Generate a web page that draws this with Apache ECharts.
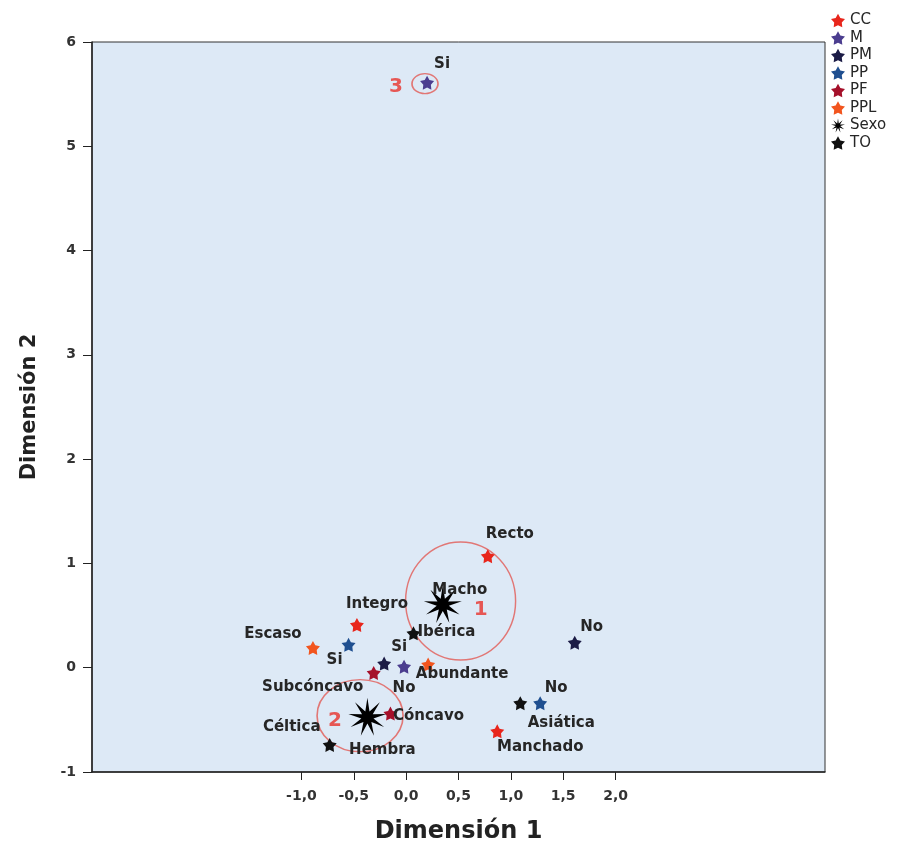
<!DOCTYPE html>
<html>
<head>
<meta charset="utf-8">
<script src="https://cdn.jsdelivr.net/npm/echarts@6/dist/echarts.min.js"></script>
<style>
html, body { margin: 0; padding: 0; background: #fff; }
#chart { width: 906px; height: 849px; }
</style>
</head>
<body>
<div id="chart"></div>
<script>
// categorias (leyenda) y puntos de cada una: [dim1, dim2, etiqueta]
var categories = ['CC', 'M', 'PM', 'PP', 'PF', 'PPL', 'Sexo', 'TO'];
var colors = ['#e8261c', '#4b3d8f', '#1c1c46', '#1f4f90', '#a5102a', '#f2551e', '#000000', '#111111'];

var ptsCC = [[0.78, 1.07, 'Recto'], [-0.47, 0.41, 'Integro'], [0.87, -0.61, 'Manchado']];
var ptsM = [[0.20, 5.61, 'Si'], [-0.02, 0.01, 'No']];
var ptsPM = [[-0.21, 0.04, 'Si'], [1.61, 0.24, 'No']];
var ptsPP = [[-0.55, 0.22, 'Si'], [1.28, -0.34, 'No']];
var ptsPF = [[-0.31, -0.05, 'Subcóncavo'], [-0.15, -0.44, 'Cóncavo']];
var ptsPPL = [[-0.89, 0.19, 'Escaso'], [0.21, 0.03, 'Abundante']];
var ptsSexo = [[0.35, 0.61, 'Macho'], [-0.37, -0.47, 'Hembra']];
var ptsTO = [[0.07, 0.33, 'Ibérica'], [-0.73, -0.74, 'Céltica'], [1.09, -0.34, 'Asiática']];

// marcas rojas dibujadas a mano (circulo + numero)
var marks = [[0.52, 0.64, '1'], [-0.44, -0.46, '2'], [0.18, 5.60, '3']];

var xTicks = [-1, -0.5, 0, 0.5, 1, 1.5, 2];

var allPts = [ptsCC, ptsM, ptsPM, ptsPP, ptsPF, ptsPPL, ptsSexo, ptsTO];

// donde va cada etiqueta respecto a su punto
var labelOffset = {
    'CC|Recto': [22, -22], 'CC|Integro': [20, -21], 'CC|Manchado': [43, 16],
    'M|Si': [15, -19], 'M|No': [0, 21],
    'PM|Si': [15, -16], 'PM|No': [17, -16],
    'PP|Si': [-14, 15], 'PP|No': [16, -15],
    'PF|Subcóncavo': [-61, 14], 'PF|Cóncavo': [38, 3],
    'PPL|Escaso': [-40, -14], 'PPL|Abundante': [34, 10],
    'Sexo|Macho': [17, -14], 'Sexo|Hembra': [15, 33],
    'TO|Ibérica': [33, -1], 'TO|Céltica': [-38, -18], 'TO|Asiática': [41, 20]
};
var markSize = { '1': [110, 118], '2': [86, 72], '3': [26, 20] };
var markOffset = { '1': [20, 9], '2': [-25, 5], '3': [-29, 3] };

function starPath(n, R, r) {
    var d = '';
    for (var i = 0; i < 2 * n; i++) {
        var a = -Math.PI / 2 + i * Math.PI / n;
        var rad = i % 2 ? r : R;
        d += (i ? 'L' : 'M') + (Math.cos(a) * rad).toFixed(2) + ' ' + (Math.sin(a) * rad).toFixed(2);
    }
    return 'path://' + d + 'Z';
}
var star5 = starPath(5, 10, 5.4);
var starBig = starPath(9, 10, 3.2);

var font = 'DejaVu Sans, Liberation Sans, sans-serif';

var series = categories.map(function (cat, ci) {
    var big = cat === 'Sexo';
    return {
        name: cat,
        type: 'scatter',
        symbol: big ? starBig : star5,
        symbolSize: big ? 38 : 14,
        itemStyle: { color: colors[ci], opacity: 1 },
        z: big ? 3 : 4,
        data: allPts[ci].map(function (p) {
            return {
                value: [p[0], p[1]],
                name: p[2],
                label: { offset: labelOffset[cat + '|' + p[2]] || [0, -14] }
            };
        }),
        label: {
            show: true,
            position: 'inside',
            formatter: '{b}',
            color: '#262626',
            fontSize: 15,
            fontWeight: 'bold',
            fontFamily: font
        }
    };
});

series.push({
    name: 'marcas',
    type: 'scatter',
    symbol: 'circle',
    z: 2,
    silent: true,
    itemStyle: { color: 'rgba(0,0,0,0)', borderColor: '#e25a55', borderWidth: 1.5 },
    data: marks.map(function (m) {
        return {
            value: [m[0], m[1]],
            name: m[2],
            symbolSize: markSize[m[2]],
            label: { offset: markOffset[m[2]] }
        };
    }),
    label: {
        show: true,
        position: 'inside',
        formatter: '{b}',
        color: '#e8322c',
        fontSize: 20,
        fontWeight: 'bold',
        fontFamily: font
    }
});

var chart = echarts.init(document.getElementById('chart'), null, { renderer: 'canvas' });

option = {
    backgroundColor: '#fff',
    animation: false,
    grid: {
        left: 92, right: 81, top: 42, bottom: 77,
        show: true,
        backgroundColor: '#dde9f6',
        borderColor: '#333',
        borderWidth: 1
    },
    legend: {
        data: categories.map(function (c) {
            return c === 'Sexo' ? { name: c, icon: starBig } : { name: c };
        }),
        orient: 'vertical',
        left: 826,
        top: 8,
        itemWidth: 14,
        itemHeight: 14,
        itemGap: 2.5,
        icon: star5,
        textStyle: { color: '#262626', fontSize: 15, lineHeight: 14, fontFamily: font }
    },
    xAxis: {
        type: 'value',
        min: -3,
        max: 4,
        interval: 0.5,
        name: 'Dimensión 1',
        nameLocation: 'middle',
        nameGap: 48,
        nameTextStyle: { fontSize: 24, fontWeight: 'bold', color: '#222', fontFamily: font },
        splitLine: { show: false },
        axisLine: { onZero: false, lineStyle: { color: '#222', width: 1.5 } },
        axisTick: { show: true, customValues: xTicks, length: 8, lineStyle: { color: '#222' } },
        axisLabel: {
            customValues: xTicks,
            margin: 17,
            color: '#333',
            fontSize: 14,
            fontWeight: 'bold',
            fontFamily: font,
            formatter: function (v) { return v.toFixed(1).replace('.', ','); }
        }
    },
    yAxis: {
        type: 'value',
        min: -1,
        max: 6,
        interval: 1,
        name: 'Dimensión 2',
        nameLocation: 'middle',
        nameGap: 52,
        nameTextStyle: { fontSize: 21, fontWeight: 'bold', color: '#222', fontFamily: font },
        splitLine: { show: false },
        axisLine: { onZero: false, lineStyle: { color: '#222', width: 1.5 } },
        axisTick: { show: true, length: 9, lineStyle: { color: '#222' } },
        axisLabel: { margin: 16, color: '#333', fontSize: 14, fontWeight: 'bold', fontFamily: font }
    },
    series: series
};
chart.setOption(option);
</script>
</body>
</html>
